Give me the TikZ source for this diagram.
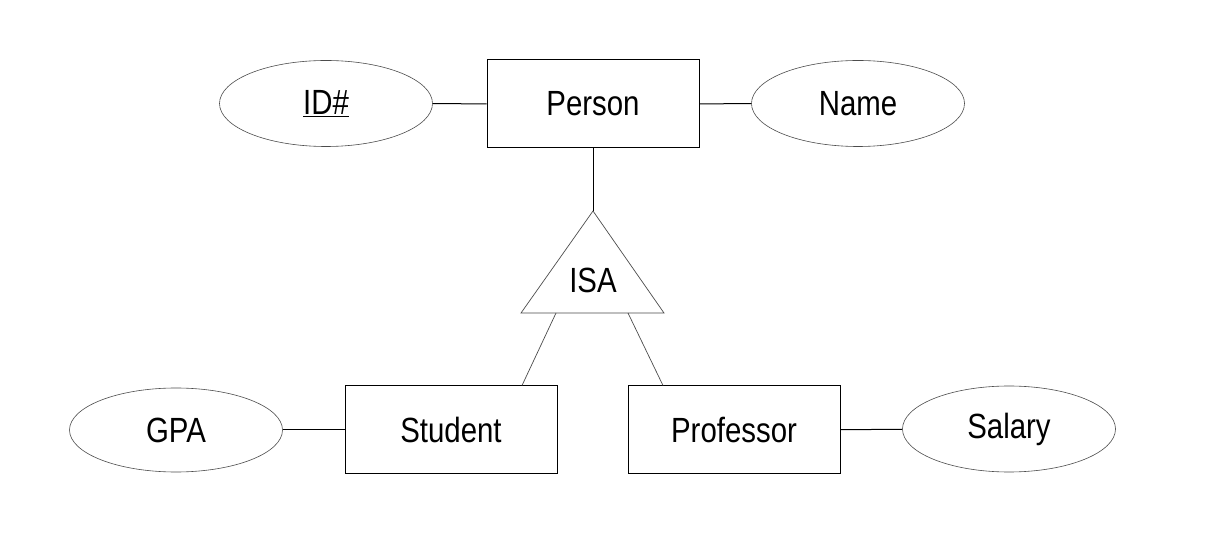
\documentclass[tikz,border=0pt]{standalone}
\usepackage{fontspec}
\setmainfont{Liberation Sans}[FakeStretch=0.84]
\usetikzlibrary{shapes.geometric}
\begin{document}
\begin{tikzpicture}[x=1pt,y=-1pt,
  entity/.style={draw=black,line width=1pt,minimum width=212pt,minimum height=88pt,inner sep=0pt,font=\fontsize{35}{42}\selectfont},
  attr/.style={ellipse,draw=black!70,line width=0.6pt,minimum width=213pt,minimum height=86pt,inner sep=0pt,font=\fontsize{35}{42}\selectfont},
  conn/.style={draw=black,line width=1pt},
  sconn/.style={draw=black!70,line width=0.7pt}]
\useasboundingbox[fill=white] (0,0) rectangle (1208,534);
\node[entity] (person) at (593,104) {Person};
\node[attr] (id) at (326,103.5) {\underline{ID\#}};
\node[attr] (name) at (858,103.5) {Name};
\node[entity] (student) at (451,430) {Student};
\node[entity] (prof) at (734,430) {Professor};
\node[attr,minimum height=84pt] (gpa) at (176,430) {GPA};
\node[attr,minimum height=86pt] (salary) at (1009,429) {\raisebox{4pt}{Salary}};
\coordinate (apex) at (593,211);
\coordinate (bl) at (521,313);
\coordinate (br) at (664,313);
\coordinate (bs) at (556,313);
\coordinate (bp) at (628,313);
\draw[draw=black!70,line width=0.7pt] (apex) -- (bl) -- (br) -- cycle;
\node[font=\fontsize{35}{42}\selectfont] (isa) at (593,280) {ISA};
\draw[conn] (id) -- (person);
\draw[conn] (person) -- (name);
\draw[conn] (person) -- (apex);
\draw[sconn] (bs) -- (student.north -| 522,0);
\draw[sconn] (bp) -- (prof.north -| 663,0);
\draw[conn] (gpa) -- (student);
\draw[conn] (prof) -- (salary);
\end{tikzpicture}
\end{document}
